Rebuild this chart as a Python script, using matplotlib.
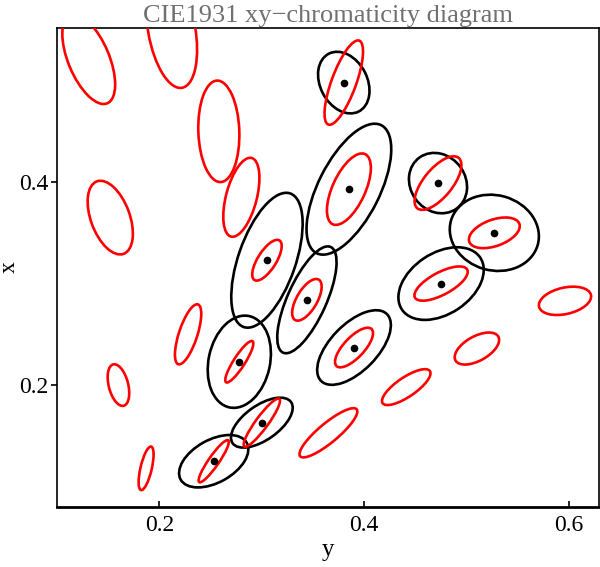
import numpy as np
import matplotlib
matplotlib.use('Agg')
import matplotlib.pyplot as plt
from matplotlib.patches import Ellipse

plt.rcParams['font.family'] = ['Liberation Serif', 'DejaVu Serif']

# MacAdam ellipses (plotted 10x): centre x, centre y, semi-axes a, b, angle (deg)
mac_x = [0.160, 0.187, 0.253, 0.150, 0.131, 0.212, 0.258, 0.152, 0.280, 0.380,
         0.160, 0.228, 0.305, 0.385, 0.472, 0.527, 0.475, 0.510, 0.596, 0.344,
         0.390, 0.441, 0.278, 0.300, 0.365]
mac_y = [0.057, 0.118, 0.125, 0.680, 0.521, 0.550, 0.450, 0.365, 0.385, 0.498,
         0.200, 0.250, 0.323, 0.393, 0.399, 0.350, 0.300, 0.236, 0.283, 0.284,
         0.237, 0.198, 0.223, 0.163, 0.153]
mac_a = [0.85, 2.2, 2.5, 9.6, 4.7, 5.8, 5.0, 3.8, 4.0, 4.4,
         2.1, 3.1, 2.3, 3.8, 3.2, 2.6, 2.9, 2.4, 2.6, 2.3,
         2.5, 2.8, 2.4, 2.9, 3.6]
mac_b = [0.35, 0.55, 0.5, 2.3, 2.0, 2.3, 2.0, 1.9, 1.5, 1.2,
         0.95, 0.9, 0.9, 1.6, 1.4, 1.3, 1.1, 1.2, 1.3, 1.0,
         1.0, 0.95, 0.55, 0.6, 0.95]
mac_theta = [62.5, 77, 55.5, 105, 112.5, 100, 92, 110, 75.5, 70,
             104, 72, 58, 65.5, 51, 20, 28.5, 29.5, 13, 60,
             47, 34.5, 57.5, 54, 40]
scale = 10.0

# black ellipses, semi-axes in chromaticity units
blk_x = [0.380, 0.385, 0.472, 0.527, 0.475, 0.305, 0.344, 0.278, 0.390, 0.300, 0.253]
blk_y = [0.498, 0.393, 0.399, 0.350, 0.300, 0.323, 0.284, 0.223, 0.237, 0.163, 0.125]
blk_a = [0.032, 0.0705, 0.031, 0.044, 0.046, 0.0696, 0.057, 0.046, 0.046, 0.035, 0.037]
blk_b = [0.023, 0.030, 0.027, 0.037, 0.030, 0.028, 0.019, 0.030, 0.023, 0.017, 0.021]
blk_theta = [117, 63.5, 125, -16, 34, 71, 66, 78, 46, 35.5, 29.5]

fig = plt.figure(figsize=(6.0, 5.67), dpi=100)
ax = fig.add_axes([0.095, 0.106, 0.903, 0.845])

for i in range(len(blk_x)):
    e = Ellipse((blk_x[i], blk_y[i]), 2*blk_a[i], 2*blk_b[i], angle=blk_theta[i],
                fill=False, edgecolor='black', lw=1.9, zorder=2)
    ax.add_patch(e)

for i in range(len(mac_x)):
    a = mac_a[i]*1e-3*scale
    b = mac_b[i]*1e-3*scale
    e = Ellipse((mac_x[i], mac_y[i]), 2*a, 2*b, angle=mac_theta[i],
                fill=False, edgecolor='red', lw=1.9, zorder=3)
    ax.add_patch(e)

ax.plot(blk_x, blk_y, 'o', color='black', markersize=4.5, zorder=4)

ax.set_xlim(0.1, 0.629)
ax.set_ylim(0.08, 0.552)
ax.set_xticks([0.2, 0.4, 0.6])
ax.set_yticks([0.2, 0.4])
ax.set_xticklabels(['0.2', '0.4', '0.6'])
ax.set_yticklabels(['0.2', '0.4'])
ax.tick_params(axis='x', direction='in', length=4, width=1.2, labelsize=17, pad=6)
ax.tick_params(axis='y', direction='out', length=4, width=1.2, labelsize=17, pad=2)
for s in ax.spines.values():
    s.set_linewidth(1.2)
ax.spines['bottom'].set_linewidth(2)

ax.set_xlabel('y', fontsize=18, labelpad=2)
ax.set_ylabel('x', fontsize=17)
ax.yaxis.set_label_coords(-0.068, 0.5)
ax.set_title('CIE1931 xy\u2212chromaticity diagram', fontsize=19, color='#707070', pad=4)

fig.savefig('out.png', dpi=100)
